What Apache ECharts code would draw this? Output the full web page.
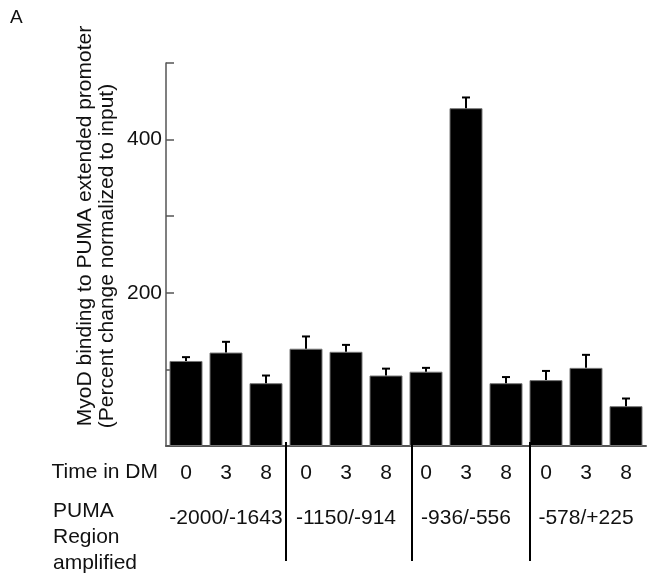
<!DOCTYPE html>
<html>
<head>
<meta charset="utf-8">
<script src="https://cdn.jsdelivr.net/npm/echarts@6/dist/echarts.min.js"></script>
<style>
  html, body { margin: 0; padding: 0; background: #fff; }
  #chart { width: 648px; height: 584px; }
</style>
</head>
<body>
<div id="chart"></div>
<script>
// PUMA promoter regions amplified, and days in differentiation medium (DM)
const regions = ['-2000/-1643', '-1150/-914', '-936/-556', '-578/+225'];
const times = ['0', '3', '8'];

// MyoD binding, percent change normalized to input (one value per region x time)
const binding = [111, 122, 82, 127, 123, 92, 97, 441, 82, 86, 102, 52];
// upper error (SE) for each bar
const errors = [5, 14, 10, 16, 9, 9, 5, 14, 8, 12, 17, 10];

// y-axis tick labels that are printed
const yLabels = [200, 400];

const FONT = '"Liberation Sans", Arial, sans-serif';

const categories = [];
regions.forEach(r => times.forEach(t => categories.push(r + '|' + t)));

const errData = binding.map((v, i) => [i, v, errors[i]]);

const chart = echarts.init(document.getElementById('chart'), null, { renderer: 'canvas' });

const option = {
  animation: false,
  backgroundColor: '#ffffff',
  textStyle: { fontFamily: FONT },
  grid: { left: 166, top: 63, width: 480, height: 383, containLabel: false },
  xAxis: [
    {
      type: 'category',
      data: categories,
      position: 'bottom',
      axisLine: { show: true, lineStyle: { color: '#555', width: 2 } },
      axisTick: { show: false },
      axisLabel: {
        interval: 0,
        hideOverlap: false,
        margin: 17,
        fontSize: 21,
        color: '#111',
        fontFamily: FONT,
        formatter: v => v.split('|')[1]
      }
    },
    {
      type: 'category',
      data: regions,
      position: 'bottom',
      gridIndex: 0,
      axisLine: { show: false },
      axisTick: { show: false },
      axisLabel: {
        interval: 0,
        hideOverlap: false,
        margin: 62,
        fontSize: 21,
        color: '#111',
        fontFamily: FONT
      }
    }
  ],
  yAxis: {
    type: 'value',
    min: 0,
    max: 500,
    interval: 100,
    axisLine: { show: true, lineStyle: { color: '#555', width: 1.5 } },
    axisTick: { show: true, inside: true, length: 8, lineStyle: { color: '#555', width: 1.5 } },
    splitLine: { show: false },
    axisLabel: {
      margin: 4,
      fontSize: 21,
      color: '#111',
      fontFamily: FONT,
      formatter: v => (yLabels.indexOf(v) >= 0 ? String(v) : '')
    }
  },
  series: [
    {
      type: 'bar',
      data: binding,
      barCategoryGap: '17.5%',
      itemStyle: { color: '#000', borderColor: '#777', borderWidth: 1 },
      z: 2
    },
    {
      type: 'custom',
      data: errData,
      z: 3,
      renderItem: function (params, api) {
        const idx = api.value(0);
        const val = api.value(1);
        const err = api.value(2);
        const base = api.coord([idx, val]);
        const top = api.coord([idx, val + err]);
        const half = 4;
        const style = { stroke: '#000', lineWidth: 2 };
        return {
          type: 'group',
          children: [
            { type: 'line', shape: { x1: base[0], y1: base[1], x2: top[0], y2: top[1] }, style },
            { type: 'line', shape: { x1: top[0] - half, y1: top[1], x2: top[0] + half, y2: top[1] }, style }
          ]
        };
      }
    }
  ]
};

chart.setOption(option);

// Panel letter, axis titles, row headers and group dividers
const px = i => chart.convertToPixel({ xAxisIndex: 0 }, i);
const baseY = chart.convertToPixel({ yAxisIndex: 0 }, 0);
// dividers sit just inside the first bar of each following group
const dividerNudge = [0, 6, 4];
const dividers = [];
for (let g = 1; g < regions.length; g++) {
  const i = g * times.length;
  const x = Math.round((px(i - 1) + px(i)) / 2) + dividerNudge[g - 1];
  dividers.push({
    type: 'line',
    shape: { x1: x, y1: baseY - 4, x2: x, y2: 561 },
    style: { stroke: '#000', lineWidth: 2 },
    z: 10
  });
}

chart.setOption({
  graphic: [
    {
      type: 'text', left: 10, top: 8,
      style: { text: 'A', font: '19px ' + FONT, fill: '#111' }
    },
    {
      type: 'text', x: 85, y: 226, rotation: Math.PI / 2,
      style: {
        text: 'MyoD binding to PUMA extended promoter',
        font: '21px ' + FONT, fill: '#111', align: 'center', verticalAlign: 'middle'
      }
    },
    {
      type: 'text', x: 107, y: 256, rotation: Math.PI / 2,
      style: {
        text: '(Percent change normalized to input)',
        font: '21px ' + FONT, fill: '#111', align: 'center', verticalAlign: 'middle'
      }
    },
    {
      type: 'text', x: 158, y: 472,
      style: {
        text: 'Time in DM', font: '21px ' + FONT, fill: '#111',
        align: 'right', verticalAlign: 'middle'
      }
    },
    {
      type: 'text', x: 53, y: 498,
      style: {
        text: 'PUMA\nRegion\namplified', font: '21px ' + FONT, fill: '#111',
        lineHeight: 26, align: 'left', verticalAlign: 'top'
      }
    }
  ].concat(dividers)
});
</script>
</body>
</html>
